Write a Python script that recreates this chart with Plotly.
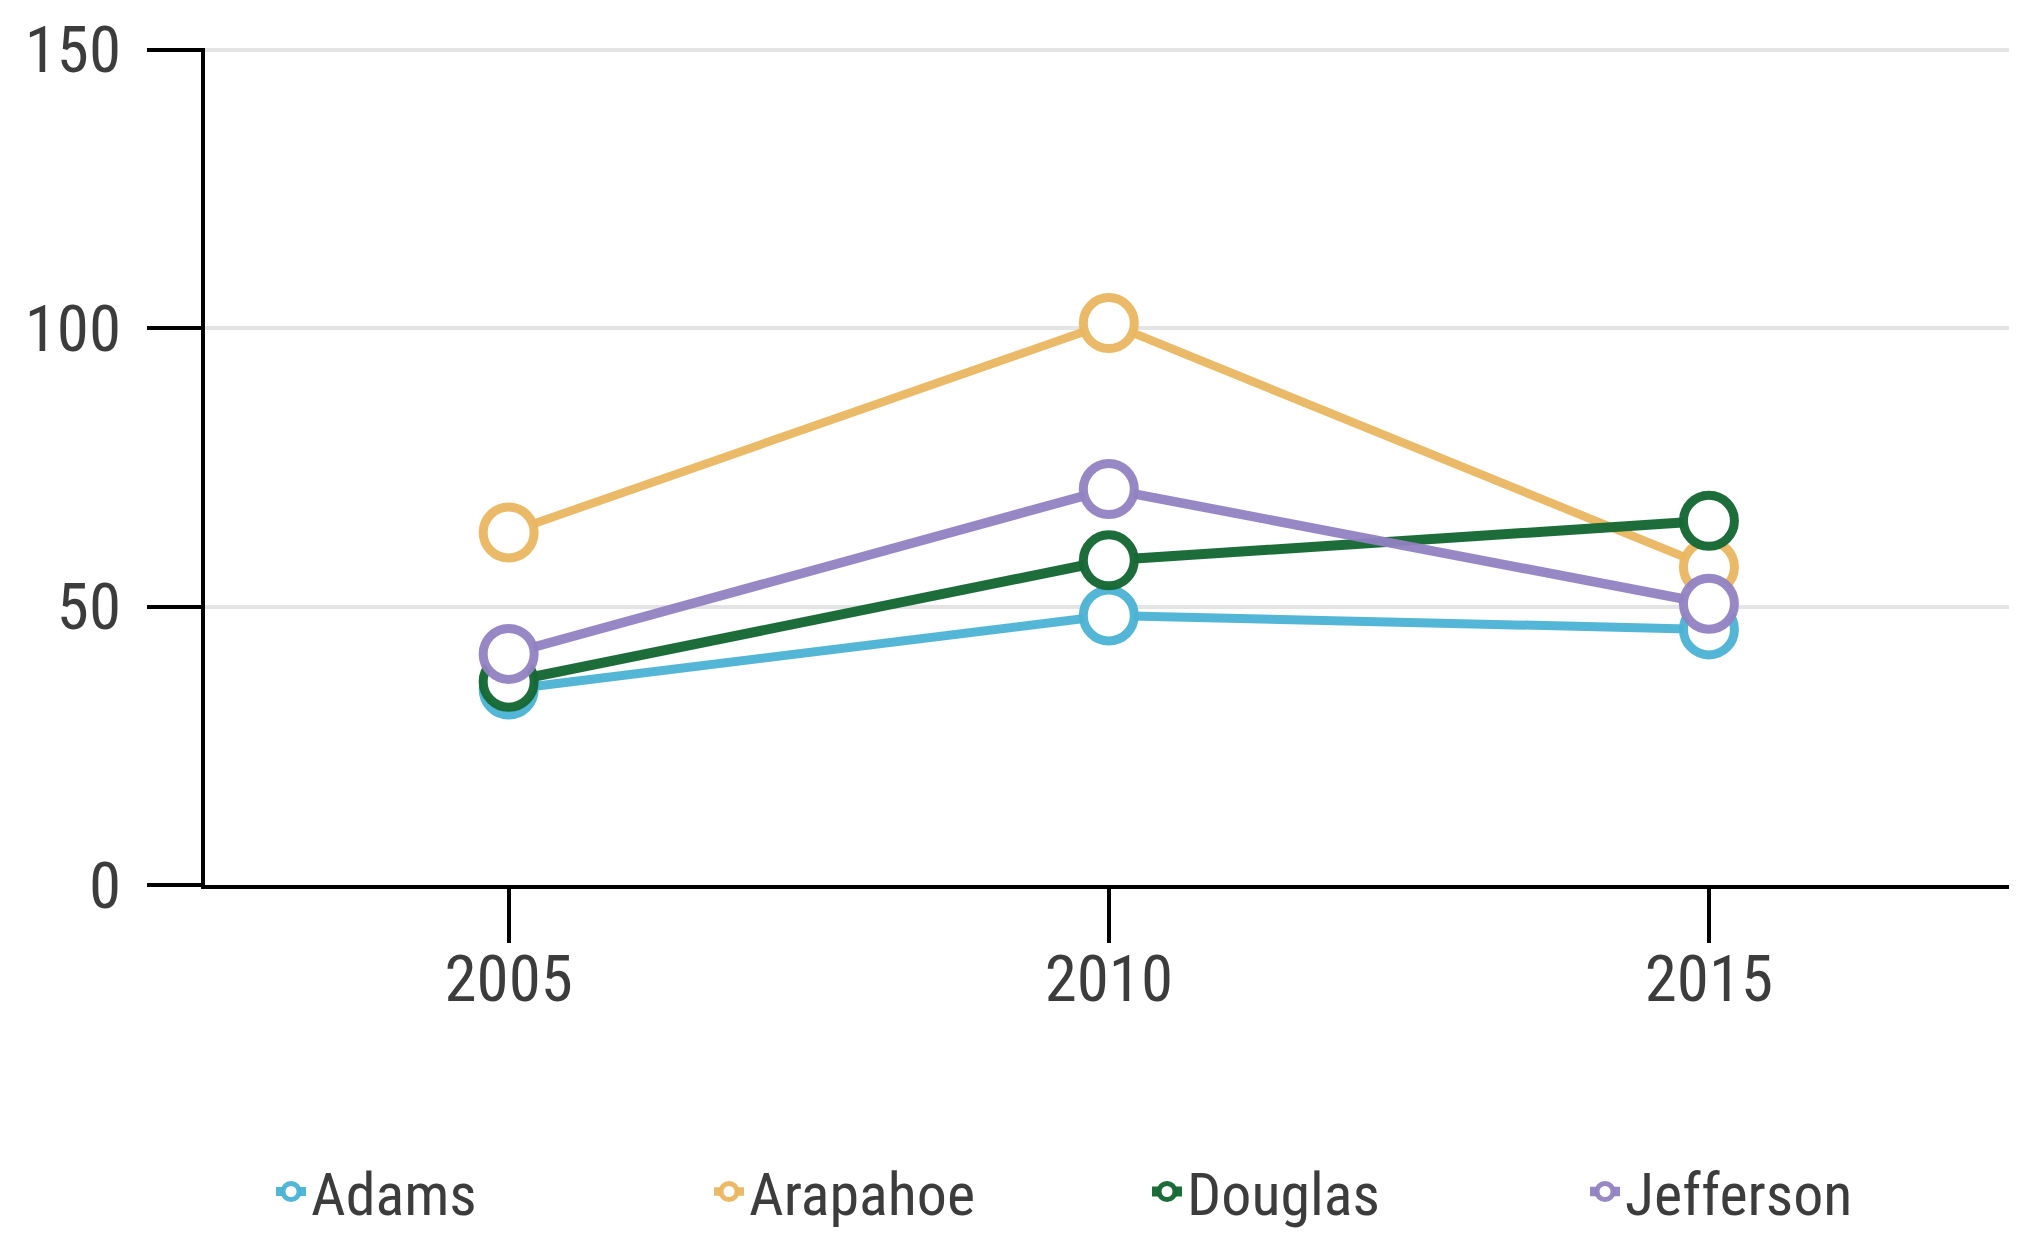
import plotly.graph_objects as go

years = [2005, 2010, 2015]
adams = [35.1, 48.4, 45.9]
arapahoe = [63.3, 100.9, 57.1]
douglas = [36.5, 58.3, 65.4]
jefferson = [41.5, 71.1, 50.5]

series = [
    ("Adams", adams, "rgba(74,178,212,0.95)", 9),
    ("Arapahoe", arapahoe, "rgba(234,182,96,0.95)", 8.5),
    ("Douglas", douglas, "rgba(22,104,52,0.97)", 10),
    ("Jefferson", jefferson, "rgba(145,130,194,0.95)", 9.5),
]

FONT = "Roboto Condensed, Liberation Sans Narrow, DejaVu Sans Condensed, Roboto, sans-serif"

fig = go.Figure()
for name, vals, color, lw in series:
    fig.add_trace(go.Scatter(
        x=years, y=vals, name=name, mode="lines+markers",
        line=dict(color=color, width=lw),
        marker=dict(symbol="circle", size=51, color="white",
                    line=dict(color=color, width=9)),
    ))

fig.update_layout(
    width=2032, height=1236,
    paper_bgcolor="white", plot_bgcolor="white",
    margin=dict(l=205, r=23, t=38, b=351),
    font=dict(family=FONT, size=65, color="#3c3c3c"),
    showlegend=True,
    legend=dict(orientation="h", xref="paper", x=0.0366, xanchor="left",
                yref="container", y=0.036, yanchor="middle",
                font=dict(size=60, color="#3c3c3c"), entrywidth=393, entrywidthmode="pixels",
                itemsizing="trace"),
    xaxis=dict(range=[2002.47, 2017.5], tickvals=years, ticktext=[str(y) for y in years],
               showgrid=False, zeroline=False, showline=True, linecolor="black", linewidth=4,
               ticks="outside", ticklen=54, tickwidth=4, tickcolor="black",
               ticklabelstandoff=-20, fixedrange=True),
    yaxis=dict(range=[0, 150.3], tickvals=[0, 50, 100, 150], showgrid=True,
               gridcolor="#e4e4e4", gridwidth=4, zeroline=False, showline=True,
               linecolor="black", linewidth=4, ticks="outside", ticklen=54, tickwidth=4,
               tickcolor="black", ticklabelstandoff=13, fixedrange=True),
)

fig.write_html("out.html", config={"displayModeBar": False},
               post_script="document.body.style.margin='0';document.body.style.overflow='hidden';")
